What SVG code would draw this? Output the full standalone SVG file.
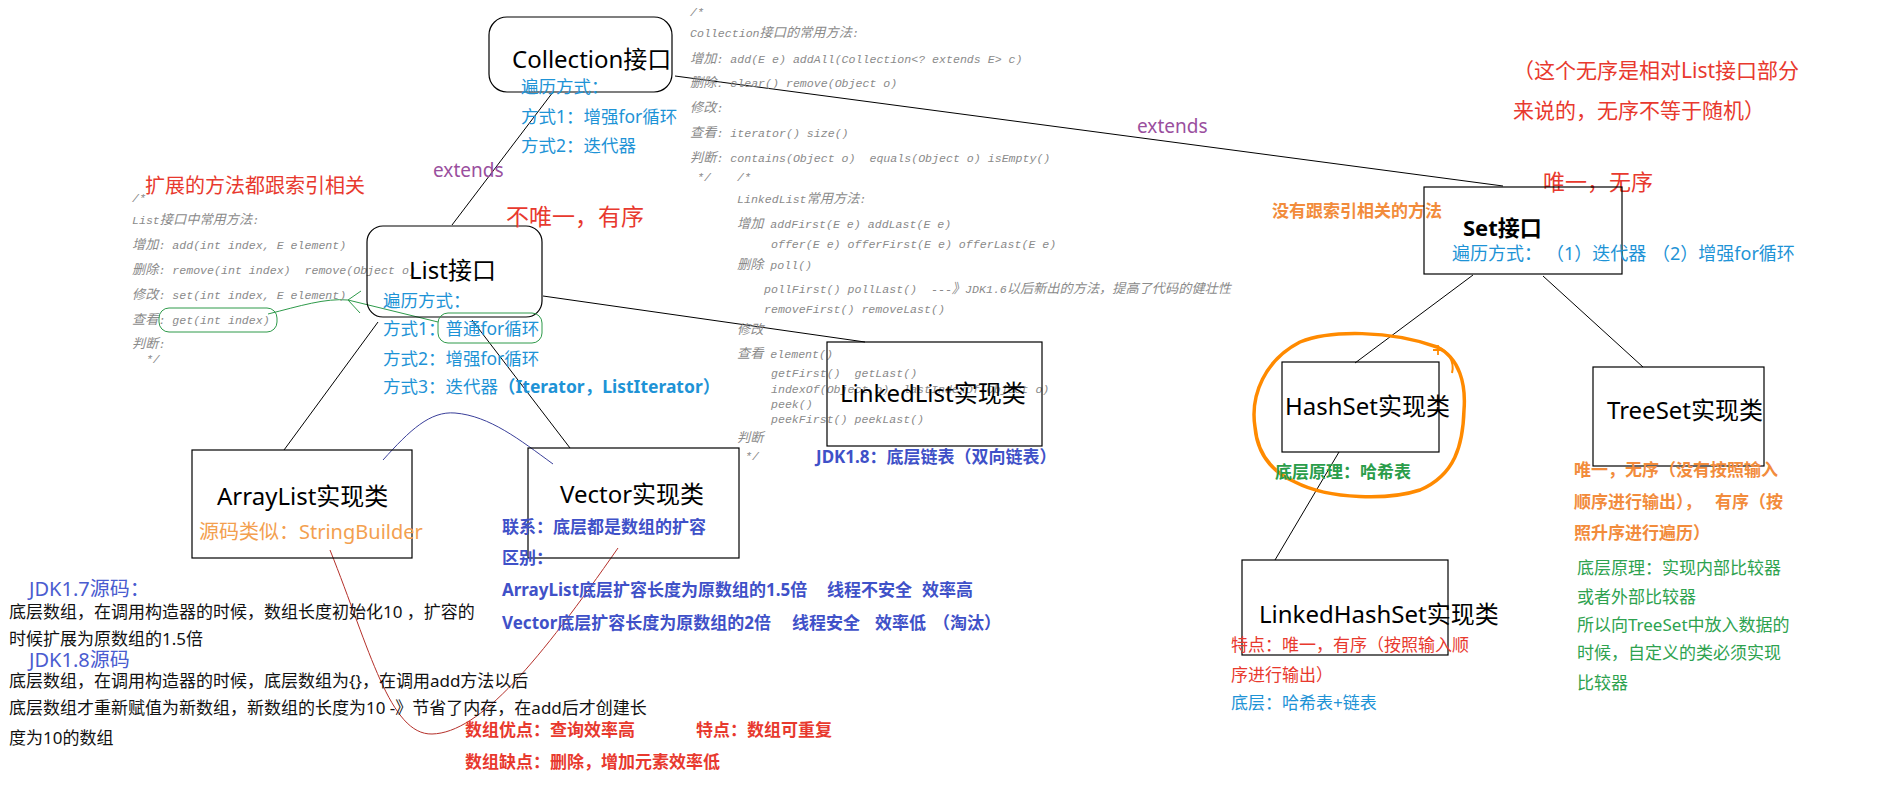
<svg xmlns="http://www.w3.org/2000/svg" width="1894" height="796" viewBox="0 0 1894 796">
<style>
text{font-family:"Noto Sans","Noto Sans CJK SC",sans-serif;white-space:pre}
.box{fill:none;stroke:#000;stroke-width:1.2}
.title{font-size:24px;fill:#000}
.code{font-family:"Liberation Mono","Noto Sans CJK SC",monospace;font-style:italic;font-size:11.6px;fill:#8a8a8a}
.cj{font-size:13.2px}
.lb{font-size:17.5px;fill:#1e93d6}
.ind{font-size:17px;font-weight:700;fill:#3f51c8}
.red{fill:#e8392e}
.rb{font-size:17px;font-weight:700;fill:#e8392e}
.or{font-size:17px;font-weight:700;fill:#f28c3c}
.gr{font-size:17px;fill:#2ea24f}
.blk{font-size:17px;fill:#111}
.ext{font-size:19px;fill:#9a4f9e}
.ln{stroke:#000;stroke-width:1;fill:none}
</style>
<rect width="1894" height="796" fill="#fff"/>

<g id="connectors">
<line class="ln" x1="553" y1="92" x2="452" y2="225"/>
<line class="ln" x1="675" y1="76" x2="1503" y2="186"/>
<line class="ln" x1="543" y1="296" x2="865" y2="342"/>
<line class="ln" x1="378" y1="322" x2="284" y2="450"/>
<line class="ln" x1="472" y1="320" x2="570" y2="448"/>
<line class="ln" x1="1473" y1="275" x2="1355" y2="363"/>
<line class="ln" x1="1543" y1="276" x2="1643" y2="367"/>
<line class="ln" x1="1339" y1="452" x2="1275" y2="560"/>
<text class="ext" x="433" y="177">extends</text>
<text class="ext" x="1137" y="133">extends</text>
<path d="M383,460 C410,430 430,411 455,413 C490,416 520,440 553,464" fill="none" stroke="#3a3f9a" stroke-width="1"/>
<path d="M330,550 C370,650 390,735 432,734 C480,733 540,660 618,548" fill="none" stroke="#b5302a" stroke-width="1"/>
<path d="M268,314 C300,306 325,298 348,300 L438,322" fill="none" stroke="#2e9a4a" stroke-width="1"/>
<path d="M361,291 L348,300 L360,313" fill="none" stroke="#2e9a4a" stroke-width="1"/>
</g>

<g id="collection-code">
<text class="code" x="690" y="16">/*</text>
<text class="code" x="690" y="37">Collection<tspan class="cj">接口的常用方法</tspan>:</text>
<text class="code" x="690" y="63"><tspan class="cj">增加</tspan>: add(E e) addAll(Collection&lt;? extends E&gt; c)</text>
<text class="code" x="690" y="87"><tspan class="cj">删除</tspan>: clear() remove(Object o)</text>
<text class="code" x="690" y="112"><tspan class="cj">修改</tspan>:</text>
<text class="code" x="690" y="137"><tspan class="cj">查看</tspan>: iterator() size()</text>
<text class="code" x="690" y="162"><tspan class="cj">判断</tspan>: contains(Object o)  equals(Object o) isEmpty()</text>
<text class="code" x="690" y="181"> */</text>
</g>

<g id="linkedlist-code">
<text class="code" x="737" y="181">/*</text>
<text class="code" x="737" y="203">LinkedList<tspan class="cj">常用方法</tspan>:</text>
<text class="code" x="737" y="228"><tspan class="cj">增加</tspan> addFirst(E e) addLast(E e)</text>
<text class="code" x="771" y="248">offer(E e) offerFirst(E e) offerLast(E e)</text>
<text class="code" x="737" y="269"><tspan class="cj">删除</tspan> poll()</text>
<text class="code" x="764" y="293">pollFirst() pollLast()  ---<tspan class="cj">》</tspan>JDK1.6<tspan class="cj">以后新出的方法，提高了代码的健壮性</tspan></text>
<text class="code" x="764" y="313">removeFirst() removeLast()</text>
<text class="code" x="737" y="334"><tspan class="cj">修改</tspan></text>
<text class="code" x="737" y="358"><tspan class="cj">查看</tspan> element()</text>
<text class="code" x="771" y="377">getFirst()  getLast()</text>
<text class="code" x="771" y="393">indexOf(Object o)  lastIndexOf(Object o)</text>
<text class="code" x="771" y="408">peek()</text>
<text class="code" x="771" y="423">peekFirst() peekLast()</text>
<text class="code" x="737" y="442"><tspan class="cj">判断</tspan></text>
<text class="code" x="745" y="460">*/</text>
</g>

<g id="list-code">
<text class="red" x="145" y="193" font-size="20">扩展的方法都跟索引相关</text>
<text class="code" x="132" y="202">/*</text>
<text class="code" x="132" y="224">List<tspan class="cj">接口中常用方法</tspan>:</text>
<text class="code" x="132" y="249"><tspan class="cj">增加</tspan>: add(int index, E element)</text>
<text class="code" x="132" y="274"><tspan class="cj">删除</tspan>: remove(int index)  remove(Object o)</text>
<text class="code" x="132" y="299"><tspan class="cj">修改</tspan>: set(int index, E element)</text>
<text class="code" x="132" y="324"><tspan class="cj">查看</tspan>: get(int index)</text>
<text class="code" x="132" y="348"><tspan class="cj">判断</tspan>:</text>
<text class="code" x="132" y="363">  */</text>
<rect x="159" y="308" width="118" height="24" rx="10" fill="none" stroke="#2e9a4a" stroke-width="1"/>
</g>

<g id="collection">
<rect class="box" x="489" y="17" width="183" height="75" rx="18"/>
<text class="title" x="512" y="68">Collection接口</text>
<text class="lb" x="521" y="93">遍历方式：</text>
<text class="lb" x="521" y="123">方式1：增强for循环</text>
<text class="lb" x="521" y="152">方式2：迭代器</text>
</g>

<g id="list">
<rect class="box" x="367" y="226" width="175" height="91" rx="16"/>
<text class="title" x="409" y="279">List接口</text>
<text class="lb" x="383" y="307">遍历方式：</text>
<text class="lb" x="383" y="335">方式1：普通for循环</text>
<text class="lb" x="383" y="365">方式2：增强for循环</text>
<text class="lb" x="383" y="393">方式3：迭代器<tspan font-weight="700">（Iterator，ListIterator）</tspan></text>
<rect x="438" y="313" width="104" height="30" rx="10" fill="none" stroke="#2e9a4a" stroke-width="1"/>
<text class="red" x="506" y="225" font-size="23">不唯一，有序</text>
</g>

<g id="arraylist">
<rect class="box" x="192" y="450" width="220" height="108"/>
<text class="title" x="217" y="505">ArrayList实现类</text>
<text x="199" y="539" font-size="20" fill="#f3a04f">源码类似：StringBuilder</text>
</g>

<g id="vector">
<rect class="box" x="528" y="448" width="211" height="110"/>
<text class="title" x="560" y="503">Vector实现类</text>
<text class="ind" x="502" y="533">联系：底层都是数组的扩容</text>
<text class="ind" x="502" y="564">区别：</text>
<text class="ind" x="502" y="596">ArrayList底层扩容长度为原数组的1.5倍<tspan x="827">线程不安全</tspan><tspan x="922">效率高</tspan></text>
<text class="ind" x="502" y="629">Vector底层扩容长度为原数组的2倍<tspan x="792">线程安全</tspan><tspan x="875">效率低</tspan><tspan x="933">（淘汰）</tspan></text>
</g>

<g id="linkedlist">
<rect class="box" x="827" y="342" width="215" height="104"/>
<text class="title" x="840" y="402">LinkedList实现类</text>
<text class="ind" x="816" y="463">JDK1.8：底层链表（双向链表）</text>
</g>

<g id="arraylist-notes">
<text x="29" y="596" font-size="20" fill="#4a5cd0">JDK1.7源码：</text>
<text class="blk" x="9" y="618">底层数组，在调用构造器的时候，数组长度初始化10 ，扩容的</text>
<text class="blk" x="9" y="645">时候扩展为原数组的1.5倍</text>
<text x="29" y="667" font-size="20" fill="#4a5cd0">JDK1.8源码</text>
<text class="blk" x="9" y="687">底层数组，在调用构造器的时候，底层数组为{}，在调用add方法以后</text>
<text class="blk" x="9" y="714">底层数组才重新赋值为新数组，新数组的长度为10 -》节省了内存，在add后才创建长</text>
<text class="blk" x="9" y="744">度为10的数组</text>
<text class="rb" x="465" y="736">数组优点：查询效率高</text>
<text class="rb" x="696" y="736">特点：数组可重复</text>
<text class="rb" x="465" y="768">数组缺点：删除，增加元素效率低</text>
</g>

<g id="set">
<text class="red" x="1513" y="78" font-size="21">（这个无序是相对List接口部分</text>
<text class="red" x="1513" y="118" font-size="21">来说的，无序不等于随机）</text>
<text class="red" x="1543" y="190" font-size="22">唯一，无序</text>
<text class="or" x="1272" y="217" font-size="18">没有跟索引相关的方法</text>
<rect class="box" x="1424" y="187" width="198" height="87"/>
<text x="1463" y="236" font-size="22" font-weight="700" fill="#000">Set接口</text>
<text x="1452" y="260" font-size="18" fill="#1e93d6">遍历方式：<tspan x="1546">（1）迭代器</tspan><tspan x="1652">（2）增强for循环</tspan></text>
</g>

<g id="hashset">
<path d="M1255,427 C1250,395 1265,360 1300,342 C1330,330 1390,330 1437,347 C1460,358 1466,385 1464,410 C1463,445 1455,475 1420,490 C1390,500 1330,500 1295,482 C1268,470 1257,450 1255,427 Z" fill="none" stroke="#ff8a00" stroke-width="3.5"/>
<path d="M1436,346 C1448,351 1455,361 1452,373" fill="none" stroke="#ff8a00" stroke-width="2"/>
<path d="M1433,350 h10 M1438,345 v10" stroke="#ff8a00" stroke-width="1.8"/>
<rect class="box" x="1282" y="362" width="157" height="90"/>
<text class="title" x="1285" y="415">HashSet实现类</text>
<text x="1275" y="478" font-size="17" font-weight="700" fill="#2a9d4a">底层原理：哈希表</text>
</g>

<g id="treeset">
<rect class="box" x="1593" y="367" width="171" height="99"/>
<text class="title" x="1607" y="419">TreeSet实现类</text>
<text class="or" x="1574" y="476">唯一，无序（没有按照输入</text>
<text class="or" x="1574" y="508">顺序进行输出），<tspan x="1715">有序（按</tspan></text>
<text class="or" x="1574" y="539">照升序进行遍历）</text>
<text class="gr" x="1577" y="574">底层原理：实现内部比较器</text>
<text class="gr" x="1577" y="603">或者外部比较器</text>
<text class="gr" x="1577" y="631">所以向TreeSet中放入数据的</text>
<text class="gr" x="1577" y="659">时候，自定义的类必须实现</text>
<text class="gr" x="1577" y="689">比较器</text>
</g>

<g id="linkedhashset">
<rect class="box" x="1242" y="560" width="206" height="95"/>
<text class="title" x="1259" y="623">LinkedHashSet实现类</text>
<text class="red" x="1231" y="651" font-size="17">特点：唯一，有序（按照输入顺</text>
<text class="red" x="1231" y="681" font-size="17">序进行输出）</text>
<text x="1231" y="709" font-size="17" fill="#1e93d6">底层：哈希表+链表</text>
</g>
</svg>
